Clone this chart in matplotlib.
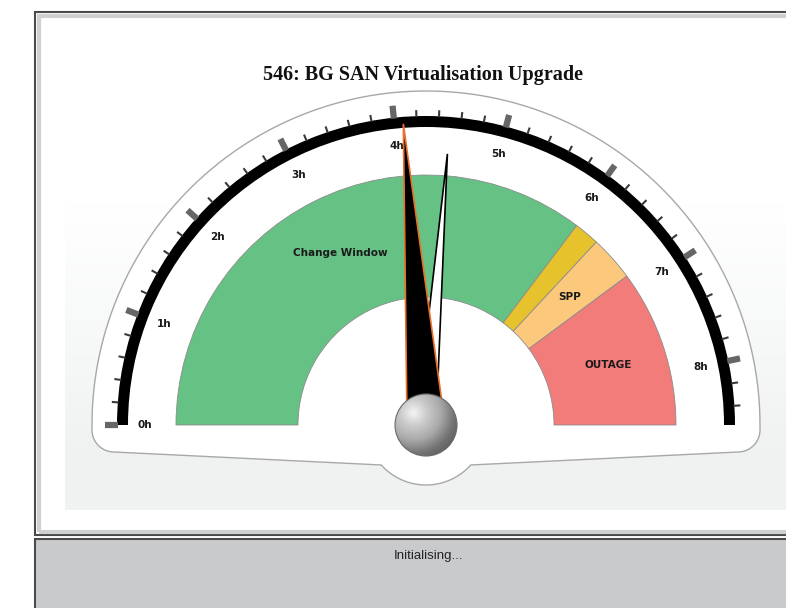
import numpy as np
import matplotlib
matplotlib.use("Agg")
import matplotlib.pyplot as plt
from matplotlib.patches import Wedge, Polygon, Circle, Rectangle, PathPatch
from matplotlib.path import Path
from matplotlib.colors import LinearSegmentedColormap

# Data
title = "546: BG SAN Virtualisation Upgrade"
status = "Initialising..."
scale_max = 8.57                      # hours at right end of dial
hour_values = [0, 1, 2, 3, 4, 5, 6, 7, 8]
hour_labels = ["0h", "1h", "2h", "3h", "4h", "5h", "6h", "7h", "8h"]
minor_step = 0.2
band_names = ["Change Window", "", "SPP", "OUTAGE"]
band_starts = [0.0, 6.05, 6.33, 6.83]
band_ends = [6.05, 6.33, 6.83, 8.57]
band_colors = ["#66c184", "#e6c22c", "#fcc97c", "#f27c79"]
needle_main = 4.08
needle_second = 4.50

# Layout (pixels, y up)
W, H = 786, 608
cx, cy = 426, 183
r_arc = 309
r_band = 250
band_w = 122


def ang(h):
    return 180.0 - 180.0 * h / scale_max


def pol(r, a):
    t = np.radians(a)
    return cx + r * np.cos(t), cy + r * np.sin(t)


fig = plt.figure(figsize=(W / 100, H / 100), dpi=100)
ax = fig.add_axes([0, 0, 1, 1])
ax.set_xlim(0, W)
ax.set_ylim(0, H)
ax.axis("off")

# panels
ax.add_patch(Rectangle((35, 73), 800, 523, fc="white", ec="#4a4a4a", lw=1.5, zorder=0))
ax.add_patch(Rectangle((38.5, 76.5), 800, 516, fc="none", ec="#cfd0d1", lw=3, zorder=0))
ax.add_patch(Rectangle((35, -20), 800, 89, fc="#c9cacc", ec="#4a4a4a", lw=1.5, zorder=0))

# soft grey plot background fading in from the top
bg = np.ones((100, 2, 4))
bg[..., :3] = np.array([0.945, 0.952, 0.952])
bg[..., 3] = np.clip(np.linspace(1.2, -0.6, 100), 0, 1)[:, None]
ax.imshow(bg, extent=[65, 786, 98, 560], origin="lower", aspect="auto", zorder=0.5,
          interpolation="bilinear")

# dial face outline
R = 334
top = [pol(R, a) for a in np.linspace(180, 0, 120)]
cr = 22
rc = [(cx + R - cr + cr * np.cos(t), 178 + cr * np.sin(t)) for t in np.radians(np.linspace(0, -90, 20))]
rb = 60
bump = [pol(rb, a) for a in np.linspace(-41.8, -138.2, 40)]
lc = [(cx - R + cr + cr * np.cos(t), 178 + cr * np.sin(t)) for t in np.radians(np.linspace(-90, -180, 20))]
verts = top + rc + bump + lc + [top[0]]
codes = [Path.MOVETO] + [Path.LINETO] * (len(verts) - 2) + [Path.CLOSEPOLY]
ax.add_patch(PathPatch(Path(verts, codes), fc="white", ec="#a8a8a8", lw=1.0, zorder=1))

# coloured bands
for name, s, e, col in zip(band_names, band_starts, band_ends, band_colors):
    ax.add_patch(Wedge((cx, cy), r_band, ang(e), ang(s), width=band_w,
                       fc=col, ec="#8c8c8c", lw=0.6, zorder=2))
    if name:
        x, y = pol(192, ang((s + e) / 2))
        ax.text(x, y, name, ha="center", va="center", fontsize=7.5,
                fontweight="bold", color="#1a1a1a", zorder=3)

# black scale arc and ticks
ax.add_patch(Wedge((cx, cy), r_arc, 0, 180, width=11, fc="black", ec="none", zorder=2))
for h in np.arange(0, scale_max, minor_step):
    if abs(h - round(h)) < 1e-6:
        continue
    x0, y0 = pol(r_arc - 1, ang(h))
    x1, y1 = pol(r_arc + 6, ang(h))
    ax.plot([x0, x1], [y0, y1], color="#3a3a3a", lw=1.5, solid_capstyle="butt", zorder=2)
for h, lab in zip(hour_values, hour_labels):
    x0, y0 = pol(r_arc - 1, ang(h))
    x1, y1 = pol(r_arc + 12, ang(h))
    ax.plot([x0, x1], [y0, y1], color="#666666", lw=4.5, solid_capstyle="butt", zorder=2)
    x, y = pol(281, ang(h))
    ax.text(x, y, lab, ha="center", va="center", fontsize=7.5,
            fontweight="bold", color="#1a1a1a", zorder=3)


def needle(value, r_tip, half, **kw):
    a = np.radians(ang(value))
    px, py = np.sin(a), -np.cos(a)
    tip = (cx + r_tip * np.cos(a), cy + r_tip * np.sin(a))
    pts = [tip, (cx + half * px, cy + half * py), (cx - half * px, cy - half * py)]
    ax.add_patch(Polygon(pts, closed=True, **kw))


needle(needle_second, 272, 10, fc="white", ec="black", lw=1.2, zorder=4)
needle(needle_main, 302, 19, fc="black", ec="#e8702a", lw=1.2, zorder=5)

# pivot ball
rb = 31
n = 200
g = np.linspace(-1, 1, n)
X, Y = np.meshgrid(g, g)
d = np.sqrt((X + 0.4) ** 2 + (Y - 0.4) ** 2)
cmap = LinearSegmentedColormap.from_list("ball", ["#f4f4f4", "#cacaca", "#aaaaaa", "#747474", "#555555"])
im = ax.imshow(np.clip(d / 1.75, 0, 1), extent=[cx - rb, cx + rb, cy - rb, cy + rb],
               origin="lower", cmap=cmap, zorder=6, interpolation="bilinear")
clip = Circle((cx, cy), rb, transform=ax.transData)
im.set_clip_path(clip)
ax.add_patch(Circle((cx, cy), rb, fc="none", ec="#6a6a6a", lw=0.8, zorder=7))

# texts
ax.text(423, 533, title, ha="center", va="center", fontsize=14.5, fontweight="bold",
        family="Liberation Serif", color="#111111")
ax.text(428, 52, status, ha="center", va="center", fontsize=9.5,
        family="Liberation Sans", color="#222222")

ax.set_xlim(0, W)
ax.set_ylim(0, H)
ax.set_aspect("auto")
fig.savefig("out.png", dpi=100)
